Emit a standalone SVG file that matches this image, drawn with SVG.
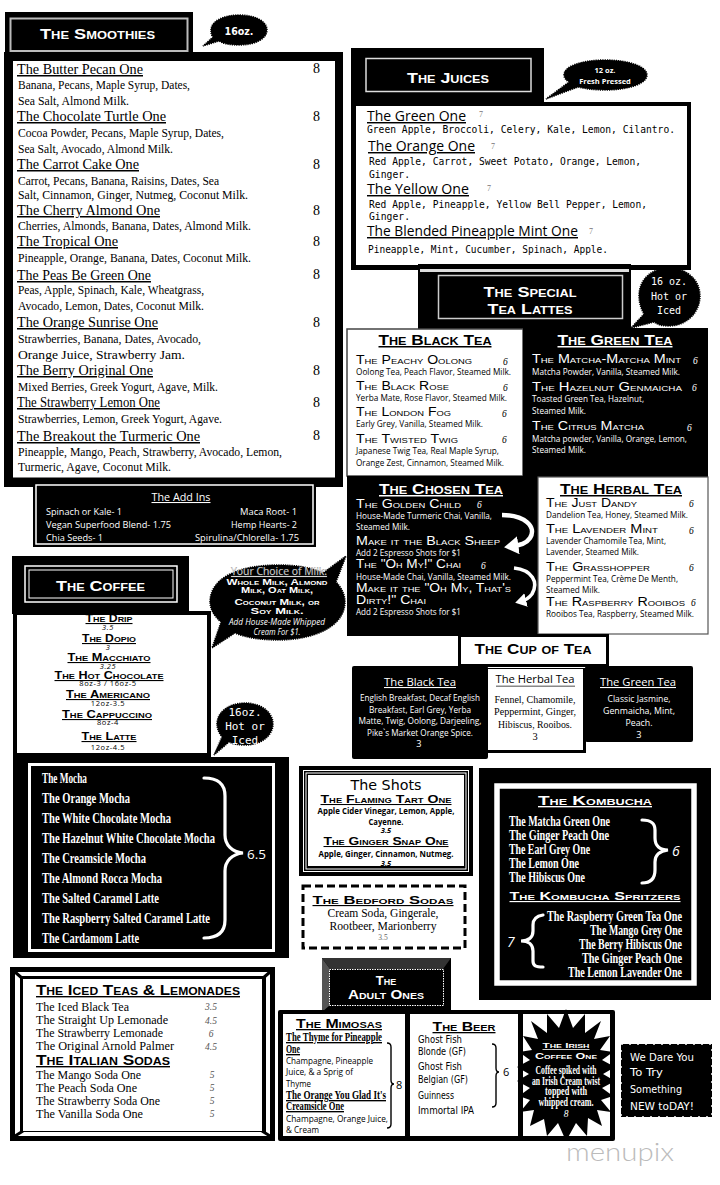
<svg xmlns="http://www.w3.org/2000/svg" width="720" height="1185" viewBox="0 0 720 1185" font-family="'Liberation Sans',Arial,sans-serif">
<defs>
<style>
.w,.w text{fill:#fff}
.cp{font-family:"Liberation Sans",Arial,sans-serif;font-weight:bold;font-variant:small-caps}
.cph{font-size:15px;text-decoration:underline}
.cpi{font-size:12px;font-weight:normal}
.hd{font-size:15.5px}
.st{font-family:"Liberation Serif",serif;font-size:15px;text-decoration:underline}
.sb{font-family:"Liberation Serif",serif;font-size:11.6px}
.pr{font-family:"Liberation Serif",serif;font-size:14px}
.jt{font-family:"Open Sans",sans-serif;font-size:14.5px;text-decoration:underline}
.jb{font-family:"DejaVu Sans Mono",monospace;font-size:9.6px}
.jp{font-family:"Liberation Serif",serif;font-size:8px;fill:#777}
.tb{font-family:"Open Sans",sans-serif;font-size:9.2px}
.i{font-family:"Liberation Serif",serif;font-style:italic;font-size:9.5px}
.ct{font-family:"Open Sans",sans-serif;font-size:10.8px;text-decoration:underline}
.cb{font-family:"Open Sans",sans-serif;font-size:9.2px}
.cs{font-family:"Liberation Serif",serif;font-size:10.4px}
.ai{font-family:"Open Sans",sans-serif;font-size:9.4px}
.cd{font-family:"Liberation Serif",serif;font-weight:bold;font-size:15px}
.cdu{text-decoration:underline;font-size:13.5px}
.cm{font-family:"DejaVu Sans",sans-serif;font-size:10.5px}
.ti{font-family:"Liberation Serif",serif;font-size:12.5px}
.m{text-anchor:middle}
.bub{fill:#000;stroke:#000;stroke-width:1.5;stroke-dasharray:1.2 1}
.brace{fill:none;stroke:#fff;stroke-width:3.2;stroke-linecap:round}
.bk{fill:none;stroke:#000;stroke-width:1.4}
.cu{font-family:"Open Sans",sans-serif;font-size:7.5px;letter-spacing:.6px}
.gr{fill:#555}
</style>
<marker id="ah" markerWidth="4" markerHeight="4" refX="1.2" refY="2" orient="auto"><path d="M0 0L3.2 2L0 4z" fill="#fff"/></marker>
</defs>
<rect width="720" height="1185" fill="#fff"/>

<g id="smoothies">
<rect x="5" y="12" width="188" height="42" fill="#000"/>
<rect x="10.500" y="18.500" width="177" height="32.500" fill="#000" stroke="#bbb" stroke-width="2"/>
<text class="cp hd w" x="40" y="39" textLength="115" lengthAdjust="spacingAndGlyphs">The Smoothies</text>
<path class="bub" d="M211 30C211 21 224 15 239 15C255 15 267 21 267 30C267 39 255 45 239 45C230 45 224 44 219 41L203 46L213 37C211 35 211 33 211 30z"/>
<text class="w m" x="239" y="35" font-family="DejaVu Sans" font-weight="bold" font-size="10.500" textLength="29" lengthAdjust="spacingAndGlyphs">16oz.</text>
<rect x="4" y="52" width="339" height="435" fill="#000"/>
<rect x="13" y="61" width="322" height="416.500" fill="#fff"/>
<g>
<text class="st" x="17" y="74" textLength="126" lengthAdjust="spacingAndGlyphs">The Butter Pecan One</text>
<text class="sb" x="18" y="89" textLength="172" lengthAdjust="spacingAndGlyphs">Banana, Pecans, Maple Syrup, Dates,</text>
<text class="sb" x="18" y="105" textLength="111" lengthAdjust="spacingAndGlyphs">Sea Salt, Almond Milk.</text>
<text class="st" x="17" y="121" textLength="149" lengthAdjust="spacingAndGlyphs">The Chocolate Turtle One</text>
<text class="sb" x="18" y="137" textLength="206" lengthAdjust="spacingAndGlyphs">Cocoa Powder, Pecans, Maple Syrup, Dates,</text>
<text class="sb" x="18" y="153" textLength="155" lengthAdjust="spacingAndGlyphs">Sea Salt, Avocado, Almond Milk.</text>
<text class="st" x="17" y="169" textLength="122" lengthAdjust="spacingAndGlyphs">The Carrot Cake One</text>
<text class="sb" x="18" y="185" textLength="201" lengthAdjust="spacingAndGlyphs">Carrot, Pecans, Banana, Raisins, Dates, Sea</text>
<text class="sb" x="18" y="199" textLength="230" lengthAdjust="spacingAndGlyphs">Salt, Cinnamon, Ginger, Nutmeg, Coconut Milk.</text>
<text class="st" x="17" y="215" textLength="143" lengthAdjust="spacingAndGlyphs">The Cherry Almond One</text>
<text class="sb" x="18" y="230" textLength="233" lengthAdjust="spacingAndGlyphs">Cherries, Almonds, Banana, Dates, Almond Milk.</text>
<text class="st" x="17" y="246" textLength="101" lengthAdjust="spacingAndGlyphs">The Tropical One</text>
<text class="sb" x="18" y="262" textLength="233" lengthAdjust="spacingAndGlyphs">Pineapple, Orange, Banana, Dates, Coconut Milk.</text>
<text class="st" x="17" y="280" textLength="134" lengthAdjust="spacingAndGlyphs">The Peas Be Green One</text>
<text class="sb" x="18" y="294" textLength="186" lengthAdjust="spacingAndGlyphs">Peas, Apple, Spinach, Kale, Wheatgrass,</text>
<text class="sb" x="18" y="310" textLength="186" lengthAdjust="spacingAndGlyphs">Avocado, Lemon, Dates, Coconut Milk.</text>
<text class="st" x="17" y="327" textLength="141" lengthAdjust="spacingAndGlyphs">The Orange Sunrise One</text>
<text class="sb" x="18" y="343" textLength="183" lengthAdjust="spacingAndGlyphs">Strawberries, Banana, Dates, Avocado,</text>
<text class="sb" x="18" y="359" textLength="167" lengthAdjust="spacingAndGlyphs">Orange Juice, Strawberry Jam.</text>
<text class="st" x="17" y="375" textLength="136" lengthAdjust="spacingAndGlyphs">The Berry Original One</text>
<text class="sb" x="18" y="391" textLength="200" lengthAdjust="spacingAndGlyphs">Mixed Berries, Greek Yogurt, Agave, Milk.</text>
<text class="st" x="17" y="407" textLength="143" lengthAdjust="spacingAndGlyphs">The Strawberry Lemon One</text>
<text class="sb" x="18" y="423" textLength="204" lengthAdjust="spacingAndGlyphs">Strawberries, Lemon, Greek Yogurt, Agave.</text>
<text class="st" x="17" y="441" textLength="183" lengthAdjust="spacingAndGlyphs">The Breakout the Turmeric One</text>
<text class="sb" x="18" y="456" textLength="264" lengthAdjust="spacingAndGlyphs">Pineapple, Mango, Peach, Strawberry, Avocado, Lemon,</text>
<text class="sb" x="18" y="471" textLength="153" lengthAdjust="spacingAndGlyphs">Turmeric, Agave, Coconut Milk.</text>
</g>
<g>
<text class="pr" x="313" y="73">8</text><text class="pr" x="313" y="121">8</text><text class="pr" x="313" y="169">8</text><text class="pr" x="313" y="215">8</text><text class="pr" x="313" y="246">8</text><text class="pr" x="313" y="279">8</text><text class="pr" x="313" y="327">8</text><text class="pr" x="313" y="375">8</text><text class="pr" x="313" y="407">8</text><text class="pr" x="313" y="440">8</text>
</g>
</g>

<g id="addins">
<rect x="33" y="482" width="283" height="65" fill="#000"/>
<rect x="36" y="485" width="277" height="59" fill="none" stroke="#fff" stroke-width="1.500"/>
<text class="w m" x="181" y="501" font-family="Open Sans" font-size="10.500" text-decoration="underline" textLength="59" lengthAdjust="spacingAndGlyphs">The Add Ins</text>
<text class="ai w" x="46" y="515" textLength="76" lengthAdjust="spacingAndGlyphs">Spinach or Kale- 1</text>
<text class="ai w" x="46" y="528" textLength="125" lengthAdjust="spacingAndGlyphs">Vegan Superfood Blend- 1.75</text>
<text class="ai w" x="46" y="541" textLength="57" lengthAdjust="spacingAndGlyphs">Chia Seeds- 1</text>
<text class="ai w" x="240" y="515" textLength="57" lengthAdjust="spacingAndGlyphs">Maca Root- 1</text>
<text class="ai w" x="231" y="528" textLength="66" lengthAdjust="spacingAndGlyphs">Hemp Hearts- 2</text>
<text class="ai w" x="195" y="541" textLength="104" lengthAdjust="spacingAndGlyphs">Spirulina/Chlorella- 1.75</text>
</g>

<g id="juices">
<rect x="351" y="48" width="193" height="60" fill="#000"/>
<rect x="351" y="102" width="340" height="168" fill="#000"/>
<rect x="356" y="106" width="331" height="159" fill="#fff"/>
<rect x="366" y="58.500" width="165" height="33" fill="#000" stroke="#ddd" stroke-width="1.500"/>
<text class="cp hd w" x="407" y="83" textLength="82" lengthAdjust="spacingAndGlyphs">The Juices</text>
<path class="bub" d="M564 75C564 66 582 60 605 60C628 60 647 66 647 75C647 84 628 90 605 90C595 90 586 89 578 87L546 99L569 82C566 80 564 78 564 75z"/>
<text class="w m" x="605" y="73" font-family="Open Sans" font-weight="bold" font-size="7.500">12 oz.</text>
<text class="w m" x="605" y="84" font-family="Open Sans" font-weight="bold" font-size="7.500">Fresh Pressed</text>
<text class="jt" x="367" y="121" textLength="99" lengthAdjust="spacingAndGlyphs">The Green One</text><text class="jp" x="479" y="117">7</text>
<text class="jb" x="367" y="133" textLength="308" lengthAdjust="spacingAndGlyphs">Green Apple, Broccoli, Celery, Kale, Lemon, Cilantro.</text>
<text class="jt" x="368" y="151" textLength="107" lengthAdjust="spacingAndGlyphs">The Orange One</text><text class="jp" x="491" y="149">7</text>
<text class="jb" x="369" y="165" textLength="272" lengthAdjust="spacingAndGlyphs">Red Apple, Carrot, Sweet Potato, Orange, Lemon,</text>
<text class="jb" x="369" y="178" textLength="41" lengthAdjust="spacingAndGlyphs">Ginger.</text>
<text class="jt" x="367" y="194" textLength="102" lengthAdjust="spacingAndGlyphs">The Yellow One</text><text class="jp" x="487" y="191">7</text>
<text class="jb" x="369" y="208" textLength="278" lengthAdjust="spacingAndGlyphs">Red Apple, Pineapple, Yellow Bell Pepper, Lemon,</text>
<text class="jb" x="369" y="220" textLength="41" lengthAdjust="spacingAndGlyphs">Ginger.</text>
<text class="jt" x="367" y="236" textLength="211" lengthAdjust="spacingAndGlyphs">The Blended Pineapple Mint One</text><text class="jp" x="589" y="234">7</text>
<text class="jb" x="368" y="253" textLength="240" lengthAdjust="spacingAndGlyphs">Pineapple, Mint, Cucumber, Spinach, Apple.</text>
</g>

<g id="lattes-header">
<rect x="418" y="264" width="213" height="68" fill="#000"/>
<rect x="420" y="269" width="209" height="3" fill="#ddd"/>
<rect x="438.500" y="275.500" width="184" height="43" fill="#000" stroke="#ccc" stroke-width="1.500"/>
<text class="cp hd w m" x="530" y="297" textLength="93" lengthAdjust="spacingAndGlyphs">The Special</text>
<text class="cp hd w m" x="530" y="314" textLength="85" lengthAdjust="spacingAndGlyphs">Tea Lattes</text>
<path class="bub" d="M639 296C639 279 652 268 669 268C686 268 700 279 700 296C700 313 686 326 669 326C663 326 658 325 654 322L631 328L644 314C641 309 639 303 639 296z"/>
<g font-family="DejaVu Sans Mono" font-size="10"><text class="w m" x="669" y="285">16 oz.</text><text class="w m" x="669" y="300">Hot or</text><text class="w m" x="669" y="314">Iced</text></g>
</g>

<g id="black-tea">
<rect x="347" y="329" width="176" height="147" fill="#fff" stroke="#444" stroke-width="1.500"/>
<text class="cp cph m" x="435" y="345" textLength="113" lengthAdjust="spacingAndGlyphs">The Black Tea</text>
<text class="cp cpi" x="356" y="364" textLength="116" lengthAdjust="spacingAndGlyphs">The Peachy Oolong</text><text class="i" x="503" y="365">6</text>
<text class="tb" x="356" y="375" textLength="155" lengthAdjust="spacingAndGlyphs">Oolong Tea, Peach Flavor, Steamed Milk.</text>
<text class="cp cpi" x="356" y="390" textLength="93" lengthAdjust="spacingAndGlyphs">The Black Rose</text><text class="i" x="503" y="391">6</text>
<text class="tb" x="356" y="401" textLength="151" lengthAdjust="spacingAndGlyphs">Yerba Mate, Rose Flavor, Steamed Milk.</text>
<text class="cp cpi" x="356" y="416" textLength="95" lengthAdjust="spacingAndGlyphs">The London Fog</text><text class="i" x="502" y="417">6</text>
<text class="tb" x="356" y="427" textLength="127" lengthAdjust="spacingAndGlyphs">Early Grey, Vanilla, Steamed Milk.</text>
<text class="cp cpi" x="356" y="443" textLength="102" lengthAdjust="spacingAndGlyphs">The Twisted Twig</text><text class="i" x="502" y="443">6</text>
<text class="tb" x="356" y="454" textLength="143" lengthAdjust="spacingAndGlyphs">Japanese Twig Tea, Real Maple Syrup,</text>
<text class="tb" x="356" y="466" textLength="148" lengthAdjust="spacingAndGlyphs">Orange Zest, Cinnamon, Steamed Milk.</text>
</g>

<g id="green-tea">
<rect x="523" y="328" width="185" height="149" fill="#000"/>
<text class="cp cph m w" x="615" y="345" textLength="115" lengthAdjust="spacingAndGlyphs">The Green Tea</text>
<text class="cp cpi w" x="532" y="363" textLength="149" lengthAdjust="spacingAndGlyphs">The Matcha-Matcha Mint</text><text class="i w" x="693" y="364">6</text>
<text class="tb w" x="532" y="375" textLength="148" lengthAdjust="spacingAndGlyphs">Matcha Powder, Vanilla, Steamed Milk.</text>
<text class="cp cpi w" x="532" y="391" textLength="150" lengthAdjust="spacingAndGlyphs">The Hazelnut Genmaicha</text><text class="i w" x="692" y="391">6</text>
<text class="tb w" x="532" y="402" textLength="112" lengthAdjust="spacingAndGlyphs">Toasted Green Tea, Hazelnut,</text>
<text class="tb w" x="532" y="414" textLength="54" lengthAdjust="spacingAndGlyphs">Steamed Milk.</text>
<text class="cp cpi w" x="532" y="430" textLength="112" lengthAdjust="spacingAndGlyphs">The Citrus Matcha</text><text class="i w" x="687" y="431">6</text>
<text class="tb w" x="532" y="442" textLength="155" lengthAdjust="spacingAndGlyphs">Matcha powder, Vanilla, Orange, Lemon,</text>
<text class="tb w" x="532" y="453" textLength="54" lengthAdjust="spacingAndGlyphs">Steamed Milk.</text>
</g>

<g id="chosen-tea">
<rect x="347" y="476" width="191" height="160" fill="#000"/>
<text class="cp cph m w" x="441" y="494" textLength="124" lengthAdjust="spacingAndGlyphs">The Chosen Tea</text>
<text class="cp cpi w" x="356" y="508" textLength="105" lengthAdjust="spacingAndGlyphs">The Golden Child</text><text class="i w" x="477" y="508">6</text>
<text class="tb w" x="356" y="519" textLength="136" lengthAdjust="spacingAndGlyphs">House-Made Turmeric Chai, Vanilla,</text>
<text class="tb w" x="356" y="530" textLength="54" lengthAdjust="spacingAndGlyphs">Steamed Milk.</text>
<text class="cp cpi w" x="356" y="545" textLength="144" lengthAdjust="spacingAndGlyphs">Make it the Black Sheep</text>
<text class="tb w" x="356" y="556" textLength="105" lengthAdjust="spacingAndGlyphs">Add 2 Espresso Shots for $1</text>
<text class="cp cpi w" x="356" y="568" textLength="105" lengthAdjust="spacingAndGlyphs">The "Oh My!" Chai</text><text class="i w" x="481" y="569">6</text>
<text class="tb w" x="356" y="580" textLength="155" lengthAdjust="spacingAndGlyphs">House-Made Chai, Vanilla, Steamed Milk.</text>
<text class="cp cpi w" x="356" y="592" textLength="155" lengthAdjust="spacingAndGlyphs">Make it the "Oh My, That's</text>
<text class="cp cpi w" x="356" y="604" textLength="70" lengthAdjust="spacingAndGlyphs">Dirty!" Chai</text>
<text class="tb w" x="356" y="615" textLength="105" lengthAdjust="spacingAndGlyphs">Add 2 Espresso Shots for $1</text>
</g>

<g id="herbal-tea">
<rect x="538" y="477" width="170" height="157" fill="#fff" stroke="#555" stroke-width="1.200"/>
<text class="cp cph m" x="621" y="494" textLength="122" lengthAdjust="spacingAndGlyphs">The Herbal Tea</text>
<text class="cp cpi" x="546" y="507" textLength="91" lengthAdjust="spacingAndGlyphs">The Just Dandy</text><text class="i" x="689" y="507">6</text>
<text class="tb" x="546" y="518" textLength="142" lengthAdjust="spacingAndGlyphs">Dandelion Tea, Honey, Steamed Milk.</text>
<text class="cp cpi" x="546" y="533" textLength="112" lengthAdjust="spacingAndGlyphs">The Lavender Mint</text><text class="i" x="689" y="534">6</text>
<text class="tb" x="546" y="544" textLength="120" lengthAdjust="spacingAndGlyphs">Lavender Chamomile Tea, Mint,</text>
<text class="tb" x="546" y="555" textLength="93" lengthAdjust="spacingAndGlyphs">Lavender, Steamed Milk.</text>
<text class="cp cpi" x="546" y="571" textLength="104" lengthAdjust="spacingAndGlyphs">The Grasshopper</text><text class="i" x="689" y="571">6</text>
<text class="tb" x="546" y="582" textLength="132" lengthAdjust="spacingAndGlyphs">Peppermint Tea, Crème De Menth,</text>
<text class="tb" x="546" y="593" textLength="54" lengthAdjust="spacingAndGlyphs">Steamed Milk.</text>
<text class="cp cpi" x="546" y="606" textLength="139" lengthAdjust="spacingAndGlyphs">The Raspberry Rooibos</text><text class="i" x="691" y="606">6</text>
<text class="tb" x="546" y="617" textLength="148" lengthAdjust="spacingAndGlyphs">Rooibos Tea, Raspberry, Steamed Milk.</text>
</g>

<g id="cup-of-tea">
<rect x="458" y="634" width="151" height="33" fill="#000"/>
<rect x="461" y="637" width="145" height="27" fill="#fff"/>
<text class="cp m" x="533" y="654" font-size="15" textLength="117" lengthAdjust="spacingAndGlyphs">The Cup of Tea</text>
<rect x="585" y="666" width="108" height="76" rx="2" fill="#000"/>
<rect x="488" y="668" width="98" height="85" fill="#000"/>
<rect x="488" y="669" width="95" height="81" fill="#fff"/>
<rect x="352" y="666" width="136" height="93" rx="2" fill="#000"/>
<text class="ct m w" x="420" y="686" textLength="72" lengthAdjust="spacingAndGlyphs">The Black Tea</text>
<text class="cb m w" x="420" y="701" textLength="120" lengthAdjust="spacingAndGlyphs">English Breakfast, Decaf English</text>
<text class="cb m w" x="420" y="713" textLength="102" lengthAdjust="spacingAndGlyphs">Breakfast, Earl Grey, Yerba</text>
<text class="cb m w" x="420" y="724" textLength="123" lengthAdjust="spacingAndGlyphs">Matte, Twig, Oolong, Darjeeling,</text>
<text class="cb m w" x="420" y="736" textLength="106" lengthAdjust="spacingAndGlyphs">Pike`s Market Orange Spice.</text>
<text class="cb m w" x="419" y="747">3</text>
<text class="m" x="535" y="683" font-family="Open Sans" font-size="10.800" textLength="79" lengthAdjust="spacingAndGlyphs">The Herbal Tea</text>
<rect x="496" y="685.500" width="79" height="1.500" fill="#888"/>
<text class="cs m" x="535" y="703" textLength="81" lengthAdjust="spacingAndGlyphs">Fennel, Chamomile,</text>
<text class="cs m" x="535" y="715" textLength="82" lengthAdjust="spacingAndGlyphs">Peppermint, Ginger,</text>
<text class="cs m" x="535" y="728" textLength="74" lengthAdjust="spacingAndGlyphs">Hibiscus, Rooibos.</text>
<text class="cs m" x="535" y="740">3</text>
<text class="ct m w" x="638" y="686" textLength="76" lengthAdjust="spacingAndGlyphs">The Green Tea</text>
<text class="cb m w" x="639" y="702" textLength="63" lengthAdjust="spacingAndGlyphs">Classic Jasmine,</text>
<text class="cb m w" x="639" y="714" textLength="72" lengthAdjust="spacingAndGlyphs">Genmaicha, Mint,</text>
<text class="cb m w" x="639" y="726" textLength="27" lengthAdjust="spacingAndGlyphs">Peach.</text>
<text class="cb m w" x="639" y="738">3</text>
</g>

<g id="coffee">
<rect x="12" y="556" width="177" height="58" fill="#000"/>
<rect x="25" y="566" width="152" height="36" fill="none" stroke="#fff" stroke-width="1.500"/>
<rect x="29" y="570" width="144" height="28" fill="none" stroke="#fff" stroke-width="1"/>
<text class="cp hd w" x="56" y="591" textLength="89" lengthAdjust="spacingAndGlyphs">The Coffee</text>
<rect x="13" y="611" width="198" height="147" fill="#000"/>
<rect x="17" y="615" width="190" height="138" fill="#fff"/>
<g>
<text class="cp m" x="109" y="622" font-size="11" font-weight="normal" text-decoration="underline" textLength="47" lengthAdjust="spacingAndGlyphs">The Drip</text>
<rect x="17" y="611" width="190" height="4" fill="#000"/>
<text class="cp m" x="109" y="642" font-size="11" text-decoration="underline" textLength="54" lengthAdjust="spacingAndGlyphs">The Dopio</text>
<text class="cp m" x="109" y="661" font-size="11" text-decoration="underline" textLength="83" lengthAdjust="spacingAndGlyphs">The Macchiato</text>
<text class="cp m" x="109" y="679" font-size="11" text-decoration="underline" textLength="109" lengthAdjust="spacingAndGlyphs">The Hot Chocolate</text>
<text class="cp m" x="108" y="698" font-size="11" text-decoration="underline" textLength="84" lengthAdjust="spacingAndGlyphs">The Americano</text>
<text class="cp m" x="107" y="718" font-size="11" text-decoration="underline" textLength="90" lengthAdjust="spacingAndGlyphs">The Cappuccino</text>
<text class="cp m" x="109" y="740" font-size="11" text-decoration="underline" textLength="55" lengthAdjust="spacingAndGlyphs">The Latte</text>
</g>
<g>
<text class="m cu" x="108" y="630" font-style="italic">3.5</text>
<text class="m cu" x="108" y="650" font-style="italic">3</text>
<text class="m cu" x="108" y="669" font-style="italic">3.25</text>
<text class="m cu" x="108" y="686">8oz-3 / 16oz-5</text>
<text class="m cu" x="108" y="706">12oz-3.5</text>
<text class="m cu" x="108" y="725">8oz-4</text>
<text class="m cu" x="108" y="750">12oz-4.5</text>
</g>
</g>

<g id="milk-bubble">
<path class="bub" d="M210 602C210 578 238 565 278 565C296 565 310 567 323 573L346 556L336 582C342 588 345 595 345 602C345 626 315 640 278 640C262 640 246 638 235 633L212 648L221 622C214 616 210 609 210 602z"/>
<text class="w m" x="279" y="575" font-family="Open Sans" font-size="10" text-decoration="underline" textLength="96" lengthAdjust="spacingAndGlyphs" stroke="#666" stroke-width=".25">Your Choice of Milk:</text>
<text class="cp w m" x="277" y="585" font-size="9" textLength="101" lengthAdjust="spacingAndGlyphs">Whole Milk, Almond</text>
<text class="cp w m" x="277" y="593" font-size="9" textLength="72" lengthAdjust="spacingAndGlyphs">Milk, Oat Milk,</text>
<text class="cp w m" x="277" y="605" font-size="9" textLength="85" lengthAdjust="spacingAndGlyphs">Coconut Milk, or</text>
<text class="cp w m" x="277" y="614" font-size="9" textLength="53" lengthAdjust="spacingAndGlyphs">Soy Milk.</text>
<text class="w m" x="277" y="625" font-family="Open Sans" font-style="italic" font-size="8.500" textLength="96" lengthAdjust="spacingAndGlyphs">Add House-Made Whipped</text>
<text class="w m" x="277" y="635" font-family="Open Sans" font-style="italic" font-size="8.500" textLength="47" lengthAdjust="spacingAndGlyphs">Cream For $1.</text>
</g>

<g id="hot-iced-bubble">
<path class="bub" d="M217 724C217 712 229 703 245 703C261 703 273 712 273 724C273 736 261 745 245 745C238 745 233 744 229 742L214 755L222 737C219 733 217 729 217 724z"/>
<g font-family="DejaVu Sans Mono" font-size="11"><text class="w m" x="245" y="716">16oz.</text><text class="w m" x="245" y="730">Hot or</text><text class="w m" x="245" y="744">Iced</text></g>
</g>

<g id="mocha">
<rect x="13" y="757" width="276" height="201" fill="#000"/>
<rect x="29.500" y="764.500" width="244" height="186" fill="none" stroke="#fff" stroke-width="3"/>
<text class="cd w" x="42" y="783" textLength="45" lengthAdjust="spacingAndGlyphs">The Mocha</text>
<text class="cd w" x="42" y="803" textLength="88" lengthAdjust="spacingAndGlyphs">The Orange Mocha</text>
<text class="cd w" x="42" y="823" textLength="129" lengthAdjust="spacingAndGlyphs">The White Chocolate Mocha</text>
<text class="cd w" x="42" y="843" textLength="173" lengthAdjust="spacingAndGlyphs">The Hazelnut White Chocolate Mocha</text>
<text class="cd w" x="42" y="863" textLength="104" lengthAdjust="spacingAndGlyphs">The Creamsicle Mocha</text>
<text class="cd w" x="42" y="883" textLength="120" lengthAdjust="spacingAndGlyphs">The Almond Rocca Mocha</text>
<text class="cd w" x="42" y="903" textLength="117" lengthAdjust="spacingAndGlyphs">The Salted Caramel Latte</text>
<text class="cd w" x="42" y="923" textLength="168" lengthAdjust="spacingAndGlyphs">The Raspberry Salted Caramel Latte</text>
<text class="cd w" x="42" y="943" textLength="97" lengthAdjust="spacingAndGlyphs">The Cardamom Latte</text>
<text class="w" x="247" y="859" font-family="Open Sans" font-size="13.500">6.5</text>
</g>

<g id="shots">
<rect x="299" y="766" width="174" height="110" fill="#000"/>
<rect x="303.500" y="770.500" width="165" height="101" fill="none" stroke="#fff" stroke-width="1"/>
<rect x="306" y="773" width="160" height="96" fill="none" stroke="#fff" stroke-width="1"/>
<rect x="308" y="775" width="156" height="91" fill="#fff"/>
<text class="m" x="386" y="790" font-family="DejaVu Sans" font-size="14" textLength="71" lengthAdjust="spacingAndGlyphs">The Shots</text>
<text class="cp m" x="386" y="803" font-size="10.500" text-decoration="underline" textLength="131" lengthAdjust="spacingAndGlyphs">The Flaming Tart One</text>
<text class="m" x="386" y="814" font-family="Open Sans" font-weight="bold" font-size="8.500" textLength="137" lengthAdjust="spacingAndGlyphs">Apple Cider Vinegar, Lemon, Apple,</text>
<text class="m" x="386" y="825" font-family="Open Sans" font-weight="bold" font-size="8.500" textLength="35" lengthAdjust="spacingAndGlyphs">Cayenne.</text>
<text class="m" x="386" y="833" font-family="Open Sans" font-weight="bold" font-style="italic" font-size="7.500">3.5</text>
<text class="cp m" x="386" y="845" font-size="10.500" text-decoration="underline" textLength="125" lengthAdjust="spacingAndGlyphs">The Ginger Snap One</text>
<text class="m" x="386" y="857" font-family="Open Sans" font-weight="bold" font-size="8.500" textLength="135" lengthAdjust="spacingAndGlyphs">Apple, Ginger, Cinnamon, Nutmeg.</text>
<text class="m" x="386" y="866" font-family="Open Sans" font-weight="bold" font-style="italic" font-size="7.500">3.5</text>
</g>

<g id="bedford">
<rect x="303" y="886" width="162" height="62" fill="#fff" stroke="#000" stroke-width="3" stroke-dasharray="8 4"/>
<text class="cp m" x="383" y="904" font-size="11.500" text-decoration="underline" textLength="141" lengthAdjust="spacingAndGlyphs">The Bedford Sodas</text>
<text class="m ti" x="383" y="917" textLength="111" lengthAdjust="spacingAndGlyphs">Cream Soda, Gingerale,</text>
<text class="m ti" x="383" y="930" textLength="107" lengthAdjust="spacingAndGlyphs">Rootbeer, Marionberry</text>
<text class="m" x="383" y="940" font-family="Liberation Serif" font-size="7.500" fill="#666">3.5</text>
</g>

<g id="kombucha">
<rect x="479" y="768" width="232" height="232" fill="#000"/>
<rect x="497" y="786" width="197" height="197" fill="none" stroke="#fff" stroke-width="5.500"/>
<text class="cp m w" x="595" y="805" font-size="13.500" text-decoration="underline" textLength="114" lengthAdjust="spacingAndGlyphs">The Kombucha</text>
<text class="cd w" x="509" y="826" textLength="101" lengthAdjust="spacingAndGlyphs">The Matcha Green One</text>
<text class="cd w" x="509" y="840" textLength="100" lengthAdjust="spacingAndGlyphs">The Ginger Peach One</text>
<text class="cd w" x="509" y="854" textLength="81" lengthAdjust="spacingAndGlyphs">The Earl Grey One</text>
<text class="cd w" x="509" y="868" textLength="70" lengthAdjust="spacingAndGlyphs">The Lemon One</text>
<text class="cd w" x="509" y="882" textLength="76" lengthAdjust="spacingAndGlyphs">The Hibiscus One</text>
<text class="w" x="672" y="856" font-family="Open Sans" font-style="italic" font-size="14">6</text>
<text class="cp m w" x="595" y="900" font-size="11.500" text-decoration="underline" textLength="171" lengthAdjust="spacingAndGlyphs">The Kombucha Spritzers</text>
<text class="cd w" x="547" y="921" textLength="135" lengthAdjust="spacingAndGlyphs">The Raspberry Green Tea One</text>
<text class="cd w" x="590" y="935" textLength="92" lengthAdjust="spacingAndGlyphs">The Mango Grey One</text>
<text class="cd w" x="579" y="949" textLength="103" lengthAdjust="spacingAndGlyphs">The Berry Hibiscus One</text>
<text class="cd w" x="582" y="963" textLength="100" lengthAdjust="spacingAndGlyphs">The Ginger Peach One</text>
<text class="cd w" x="568" y="977" textLength="114" lengthAdjust="spacingAndGlyphs">The Lemon Lavender One</text>
<text class="w" x="507" y="947" font-family="Open Sans" font-style="italic" font-size="14">7</text>
</g>

<g id="iced-teas">
<rect x="10" y="967" width="265" height="174" fill="#000"/>
<rect x="15" y="972" width="255" height="164" fill="#fff"/>
<rect x="20" y="976" width="246" height="156" fill="#000"/>
<rect x="23" y="979" width="239" height="152" fill="#fff"/>
<path d="M15 972L23 979M270 972L262 979M15 1136L23 1131M270 1136L262 1131" stroke="#000" stroke-width="3"/>
<text class="cp" x="36" y="995" font-size="14" text-decoration="underline" textLength="204" lengthAdjust="spacingAndGlyphs">The Iced Teas &amp; Lemonades</text>
<g>
<text class="ti" x="36" y="1011" textLength="93" lengthAdjust="spacingAndGlyphs">The Iced Black Tea</text>
<text class="ti" x="36" y="1024" textLength="132" lengthAdjust="spacingAndGlyphs">The Straight Up Lemonade</text>
<text class="ti" x="36" y="1037" textLength="127" lengthAdjust="spacingAndGlyphs">The Strawberry Lemonade</text>
<text class="ti" x="36" y="1050" textLength="138" lengthAdjust="spacingAndGlyphs">The Original Arnold Palmer</text>
<text class="ti" x="36" y="1079" textLength="105" lengthAdjust="spacingAndGlyphs">The Mango Soda One</text>
<text class="ti" x="36" y="1092" textLength="101" lengthAdjust="spacingAndGlyphs">The Peach Soda One</text>
<text class="ti" x="36" y="1105" textLength="124" lengthAdjust="spacingAndGlyphs">The Strawberry Soda One</text>
<text class="ti" x="36" y="1118" textLength="107" lengthAdjust="spacingAndGlyphs">The Vanilla Soda One</text>
</g>
<text class="cp" x="36" y="1065" font-size="14" text-decoration="underline" textLength="134" lengthAdjust="spacingAndGlyphs">The Italian Sodas</text>
<g>
<text class="i m gr" x="211" y="1010">3.5</text><text class="i m gr" x="211" y="1024">4.5</text><text class="i m gr" x="211" y="1037">6</text><text class="i m gr" x="211" y="1050">4.5</text><text class="i m gr" x="212" y="1078">5</text><text class="i m gr" x="212" y="1091">5</text><text class="i m gr" x="212" y="1104">5</text><text class="i m gr" x="212" y="1117">5</text>
</g>
</g>

<g id="adult-header">
<path d="M322 958H451V1012H322z" fill="#000"/>
<path d="M322 958L330 969V1005L322 1012z" fill="#555"/>
<path d="M322 958H451L443 969H330z" fill="#333"/>
<rect x="329.500" y="969.500" width="114" height="36" fill="#000" stroke="#fff" stroke-width="1" stroke-dasharray="1.500 1"/>
<text class="cp w m" x="386" y="985" font-size="13">The</text>
<text class="cp w m" x="386" y="999" font-size="13" textLength="76" lengthAdjust="spacingAndGlyphs">Adult Ones</text>
</g>

<g id="adult-panel">
<rect x="278" y="1010" width="337" height="131" rx="2" fill="#000"/>
<rect x="283" y="1014" width="122" height="122" fill="#fff"/>
<rect x="410" y="1014" width="108" height="122" fill="#fff"/>
<rect x="523" y="1014" width="87" height="122" fill="#fff"/>
<g id="mimosas">
<text class="cp m" x="339" y="1028" font-size="13" text-decoration="underline" textLength="86" lengthAdjust="spacingAndGlyphs">The Mimosas</text>
<text class="cd cdu" x="286" y="1041" textLength="96" lengthAdjust="spacingAndGlyphs">The Thyme for Pineapple</text>
<text class="cd cdu" x="286" y="1053" textLength="14" lengthAdjust="spacingAndGlyphs">One</text>
<text class="tb" x="286" y="1064" textLength="87" lengthAdjust="spacingAndGlyphs">Champagne, Pineapple</text>
<text class="tb" x="286" y="1075" textLength="67" lengthAdjust="spacingAndGlyphs">Juice, &amp; a Sprig of</text>
<text class="tb" x="286" y="1087" textLength="25" lengthAdjust="spacingAndGlyphs">Thyme</text>
<text class="cd cdu" x="286" y="1099" textLength="100" lengthAdjust="spacingAndGlyphs">The Orange You Glad It's </text>
<text class="cd cdu" x="286" y="1110" textLength="58" lengthAdjust="spacingAndGlyphs">Creamsicle One</text>
<text class="tb" x="286" y="1122" textLength="102" lengthAdjust="spacingAndGlyphs">Champagne, Orange Juice,</text>
<text class="tb" x="286" y="1133" textLength="33" lengthAdjust="spacingAndGlyphs">&amp; Cream</text>
<text x="396" y="1089" font-family="Open Sans" font-size="11">8</text>
</g>
<g id="beer">
<text class="cp m" x="464" y="1031" font-size="13" text-decoration="underline" textLength="63" lengthAdjust="spacingAndGlyphs">The Beer</text>
<text class="cm" x="418" y="1043" textLength="44" lengthAdjust="spacingAndGlyphs">Ghost Fish</text>
<text class="cm" x="418" y="1055" textLength="48" lengthAdjust="spacingAndGlyphs">Blonde (GF)</text>
<text class="cm" x="418" y="1070" textLength="44" lengthAdjust="spacingAndGlyphs">Ghost Fish</text>
<text class="cm" x="418" y="1083" textLength="50" lengthAdjust="spacingAndGlyphs">Belgian (GF)</text>
<text class="cm" x="418" y="1099" textLength="36" lengthAdjust="spacingAndGlyphs">Guinness</text>
<text class="cm" x="418" y="1114" textLength="56" lengthAdjust="spacingAndGlyphs">Immortal IPA</text>
<text x="503" y="1076" font-family="Open Sans" font-size="11">6</text>
</g>
<g id="irish">
<path fill="#000" d="M566 1009L573 1028L585 1014L585 1033L601 1021L594 1039L610 1036L600 1050L613 1052L602 1060L615 1067L603 1074L615 1081L602 1088L613 1096L601 1100L611 1112L597 1110L602 1126L588 1118L587 1136L576 1123L566 1141L558 1123L547 1136L544 1119L530 1126L534 1110L520 1112L530 1100L519 1096L530 1088L517 1081L529 1074L517 1067L530 1060L519 1052L532 1050L523 1036L538 1039L531 1021L547 1033L547 1014L559 1028z"/>
<text class="cp m w" x="566" y="1048" font-size="8" text-decoration="underline" textLength="47" lengthAdjust="spacingAndGlyphs">The Irish</text>
<text class="cp m w" x="566" y="1059" font-size="9" textLength="62" lengthAdjust="spacingAndGlyphs">Coffee One</text>
<text class="cd w m" x="566" y="1074" style="font-size:12.500px" textLength="61" lengthAdjust="spacingAndGlyphs">Coffee spiked with</text>
<text class="cd w m" x="566" y="1085" style="font-size:12.500px" textLength="68" lengthAdjust="spacingAndGlyphs">an Irish Cream twist</text>
<text class="cd w m" x="566" y="1095" style="font-size:12.500px" textLength="42" lengthAdjust="spacingAndGlyphs">topped with</text>
<text class="cd w m" x="566" y="1106" style="font-size:12.500px" textLength="55" lengthAdjust="spacingAndGlyphs">whipped cream.</text>
<text class="i w m" x="566" y="1117">8</text>
</g>
</g>

<g id="dare">
<rect x="622" y="1045" width="89" height="71" fill="#000" stroke="#000" stroke-width="2"/>
<rect x="621" y="1044" width="91" height="73" fill="none" stroke="#fff" stroke-width="1.500" stroke-dasharray="2 6"/>
<g font-family="DejaVu Sans" font-size="10.500">
<text class="w" x="630" y="1061" textLength="64" lengthAdjust="spacingAndGlyphs">We Dare You</text>
<text class="w" x="630" y="1076" textLength="33" lengthAdjust="spacingAndGlyphs">To Try</text>
<text class="w" x="630" y="1093" textLength="52" lengthAdjust="spacingAndGlyphs">Something</text>
<text class="w" x="630" y="1110" textLength="64" lengthAdjust="spacingAndGlyphs">NEW toDAY!</text>
</g>
</g>

<text id="watermark" x="566" y="1161" font-family="Lato" font-weight="300" font-size="25" fill="#bbb" textLength="108" lengthAdjust="spacingAndGlyphs">menupix</text>

<g id="connectors">
<path d="M502 515C525 515 537 527 530 538C526 544 520 545 513 546" fill="none" stroke="#fff" stroke-width="4.500" marker-end="url(#ah)"/>
<path d="M514 568C532 570 539 582 532 594C529 598 526 600 522 601" fill="none" stroke="#fff" stroke-width="3.500" marker-end="url(#ah)"/>
<path class="brace" d="M204 778C218 778 225 784 225 796V835C225 845 232 852 243 853C232 854 225 861 225 871V920C225 932 218 938 204 938"/>
<path class="brace" d="M642 820C651 820 655 823 655 830V838C655 846 660 850 668 850C660 851 655 855 655 862V870C655 878 651 883 642 883"/>
<path class="brace" d="M543 915C536 916 533 919 533 925V931C533 937 529 941 521 941C529 941 533 945 533 951V961C533 966 536 967 543 967"/>
<path class="bk" d="M387 1043C390 1043 391 1044 391 1047V1080C391 1083 392 1084 394 1084C392 1084 391 1085 391 1088V1124C391 1127 390 1128 387 1128"/>
<path class="bk" d="M492 1044C495 1044 496 1045 496 1048V1068C496 1071 497 1072 499 1072C497 1072 496 1073 496 1076V1103C496 1106 495 1107 492 1107"/>
</g>
</svg>
